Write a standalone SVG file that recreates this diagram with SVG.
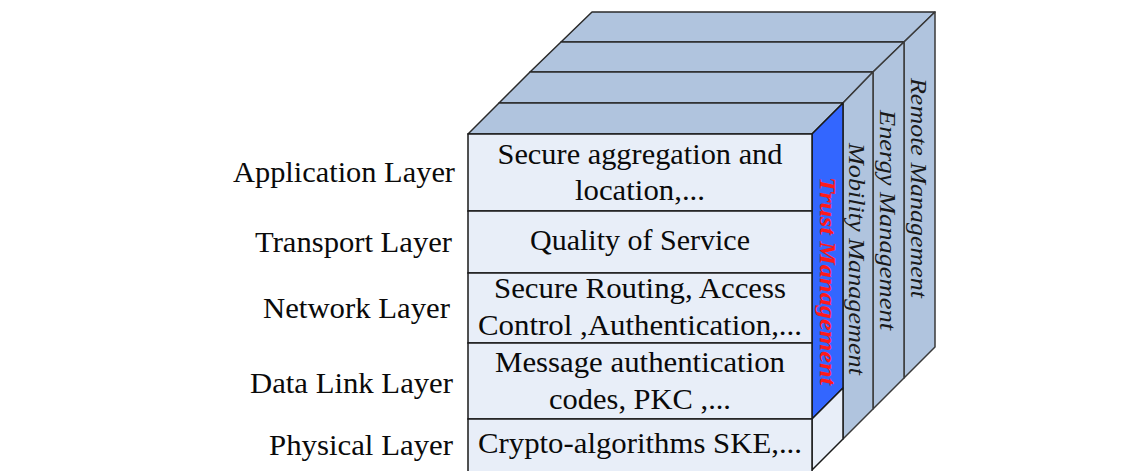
<svg xmlns="http://www.w3.org/2000/svg" width="1145" height="471" viewBox="0 0 1145 471">
<style>
.top{fill:#b0c4de;stroke:#2a2a2a;stroke-width:1.5;stroke-linejoin:round}
.side{fill:#b0c4de;stroke:#3a3a3a;stroke-width:1.5;stroke-linejoin:round}
.front{fill:#e8eef8;stroke:#1a1a1a;stroke-width:1.5}
.trust{fill:#3366ff;stroke:#1a1a1a;stroke-width:1.5;stroke-linejoin:round}
.lt{font-family:"Liberation Serif","Times New Roman",serif;font-size:29px;fill:#0a0a0a}
.ft{font-family:"Liberation Serif","Times New Roman",serif;font-size:29px;fill:#0a0a0a;text-anchor:middle}
.vt{font-family:"Liberation Serif","Times New Roman",serif;font-size:24px;font-style:italic;fill:#1a1a1a;text-anchor:middle}
.vtr{font-family:"Liberation Serif","Times New Roman",serif;font-size:24px;font-style:italic;font-weight:bold;fill:#ff1a1a;text-anchor:middle}
</style>
<rect width="1145" height="471" fill="#ffffff"/>
<g id="layer-labels">
<text class="lt" x="455" y="182" text-anchor="end" textLength="222" lengthAdjust="spacingAndGlyphs">Application Layer</text>
<text class="lt" x="452" y="252" text-anchor="end" textLength="197" lengthAdjust="spacingAndGlyphs">Transport Layer</text>
<text class="lt" x="450" y="318" text-anchor="end" textLength="187" lengthAdjust="spacingAndGlyphs">Network Layer</text>
<text class="lt" x="453" y="393" text-anchor="end" textLength="203" lengthAdjust="spacingAndGlyphs">Data Link Layer</text>
<text class="lt" x="453" y="455" text-anchor="end" textLength="184" lengthAdjust="spacingAndGlyphs">Physical Layer</text>
</g>
<g id="top-face">
<polygon class="top" points="561,42 904,42 935,12 592,12"/>
<polygon class="top" points="530,72 873,72 904,42 561,42"/>
<polygon class="top" points="499,103 843,103 873,72 530,72"/>
<polygon class="top" points="468,134 812,134 843,103 499,103"/>
</g>
<g id="remote-management">
<polygon class="side" points="904,42 935,12 935,347 904,378"/>
<text class="vt" transform="translate(911,188) rotate(90)" textLength="220" lengthAdjust="spacingAndGlyphs">Remote Management</text>
</g>
<g id="energy-management">
<polygon class="side" points="873,72 904,42 904,378 873,409"/>
<text class="vt" transform="translate(880,220) rotate(90)" textLength="220" lengthAdjust="spacingAndGlyphs">Energy Management</text>
</g>
<g id="mobility-management">
<polygon class="side" points="843,103 873,72 873,409 843,439"/>
<text class="vt" transform="translate(849,259) rotate(90)" textLength="232" lengthAdjust="spacingAndGlyphs">Mobility Management</text>
</g>
<g id="trust-management">
<polygon class="trust" points="812,134 843,103 843,388 812,419"/>
<polygon class="front" points="812,419 843,388 843,439 812,470" stroke-linejoin="round"/>
<text class="vtr" transform="translate(820,281) rotate(90)" textLength="208" lengthAdjust="spacingAndGlyphs">Trust Management</text>
</g>
<g id="application-layer">
<rect class="front" x="468" y="134" width="344" height="77"/>
<text class="ft" x="640" y="164" textLength="285" lengthAdjust="spacingAndGlyphs">Secure aggregation and</text>
<text class="ft" x="640" y="200" textLength="130" lengthAdjust="spacingAndGlyphs">location,...</text>
</g>
<g id="transport-layer">
<rect class="front" x="468" y="211" width="344" height="62"/>
<text class="ft" x="640" y="250" textLength="220" lengthAdjust="spacingAndGlyphs">Quality of Service</text>
</g>
<g id="network-layer">
<rect class="front" x="468" y="273" width="344" height="70"/>
<text class="ft" x="640" y="298" textLength="292" lengthAdjust="spacingAndGlyphs">Secure Routing, Access</text>
<text class="ft" x="640" y="335" textLength="324" lengthAdjust="spacingAndGlyphs">Control ,Authentication,...</text>
</g>
<g id="data-link-layer">
<rect class="front" x="468" y="343" width="344" height="76"/>
<text class="ft" x="640" y="372" textLength="290" lengthAdjust="spacingAndGlyphs">Message authentication</text>
<text class="ft" x="640" y="409" textLength="182" lengthAdjust="spacingAndGlyphs">codes, PKC ,...</text>
</g>
<g id="physical-layer">
<rect class="front" x="468" y="419" width="344" height="56"/>
<text class="ft" x="640" y="453" textLength="324" lengthAdjust="spacingAndGlyphs">Crypto-algorithms SKE,...</text>
</g>
<g id="connectors"></g>
</svg>
